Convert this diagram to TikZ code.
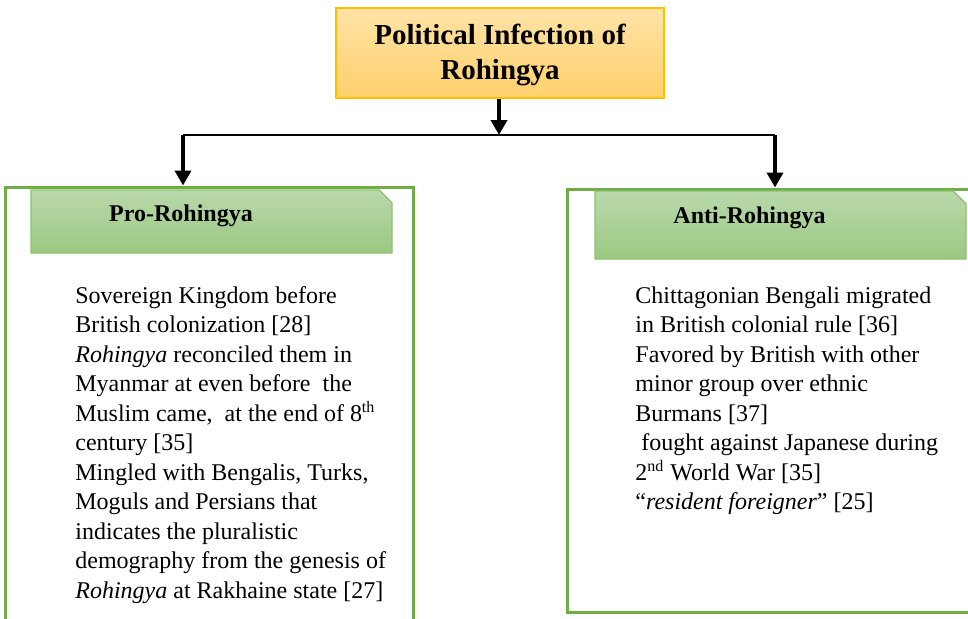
\documentclass[tikz,border=0pt]{standalone}
\usepackage{fontspec}
\setmainfont{Liberation Serif}
\usepackage{xcolor}
\usetikzlibrary{arrows.meta,positioning,shapes.misc}
\definecolor{goldline}{HTML}{FFC000}
\definecolor{goldtop}{HTML}{FFE3A6}
\definecolor{goldbot}{HTML}{FFD06C}
\definecolor{leafline}{HTML}{70AD47}
\definecolor{headline}{HTML}{8DC16F}
\definecolor{headtop}{HTML}{B9D9AC}
\definecolor{headbot}{HTML}{9BC881}

\begin{document}
\begin{tikzpicture}[
    x=0.5pt, y=-0.5pt,
    titlebox/.style={draw=goldline, line width=0.7pt, top color=goldtop, bottom color=goldbot,
                     minimum width=164pt, minimum height=45pt, align=center, text depth=1.2pt,
                     font=\fontsize{14.5}{17.5}\selectfont\bfseries},
    sidebox/.style={draw=leafline, line width=1.5pt, minimum width=204pt},
    headbox/.style={chamfered rectangle, chamfered rectangle corners=north east,
                    chamfered rectangle xsep=6pt, draw=headline, line width=0.6pt,
                    top color=headtop, bottom color=headbot},
    headtext/.style={font=\fontsize{12}{14}\selectfont\bfseries},
    bodytext/.style={anchor=north west, inner sep=0pt, align=left,
                     font=\fontsize{12}{14.75}\selectfont},
    arrow/.style={-{Triangle[length=7.5pt,width=8pt]}, line width=1.8pt}
]
\useasboundingbox (0,0) rectangle (968,618);
\clip (0,0) rectangle (968,618);

% top box
\node[titlebox] (title) at (500,53) {Political Infection of\\Rohingya};

% outer frames
\node[sidebox, minimum height=221.5pt] (proBox) at (209,408.5) {};
\node[sidebox, minimum height=211.5pt] (antiBox) at (771,400.5) {};

% headers
\node[headbox, minimum width=180.5pt, minimum height=31.5pt] (proHead) at (211.5,221.5) {};
\node[headbox, minimum width=185.5pt, minimum height=34pt] (antiHead) at (780.5,225) {};
\node[headtext] (proTitle) at (181,216) {Pro-Rohingya};
\node[headtext] (antiTitle) at (749.5,218) {Anti-Rohingya};

% connectors
\coordinate (split) at (499,135);
\coordinate (jl) at (183,135);
\coordinate (jr) at (775,135);
\draw[arrow] (title.south -| split) -- (split);
\draw[line width=0.75pt] (jl) -- (jr);
\draw[arrow] (jl) -- (jl |- proBox.north);
\draw[arrow] (jr) -- (jr |- antiBox.north);

% body texts
\node[bodytext] (proText) at (75,286) {Sovereign Kingdom before\\
British colonization [28]\\
\textit{Rohingya} reconciled them in\\
Myanmar at even before\ \ the\\
Muslim came,\ \ at the end of 8\textsuperscript{th}\\
century [35]\\
Mingled with Bengalis, Turks,\\
Moguls and Persians that\\
indicates the pluralistic\\
demography from the genesis of\\
\textit{Rohingya} at Rakhaine state [27]};
\node[bodytext] (antiText) at (635,286) {Chittagonian Bengali migrated\\
in British colonial rule [36]\\
Favored by British with other\\
minor group over ethnic\\
Burmans [37]\\
\hspace*{3pt}fought against Japanese during\\
2\textsuperscript{nd} World War [35]\\
“\textit{resident foreigner}” [25]};
\end{tikzpicture}
\end{document}
